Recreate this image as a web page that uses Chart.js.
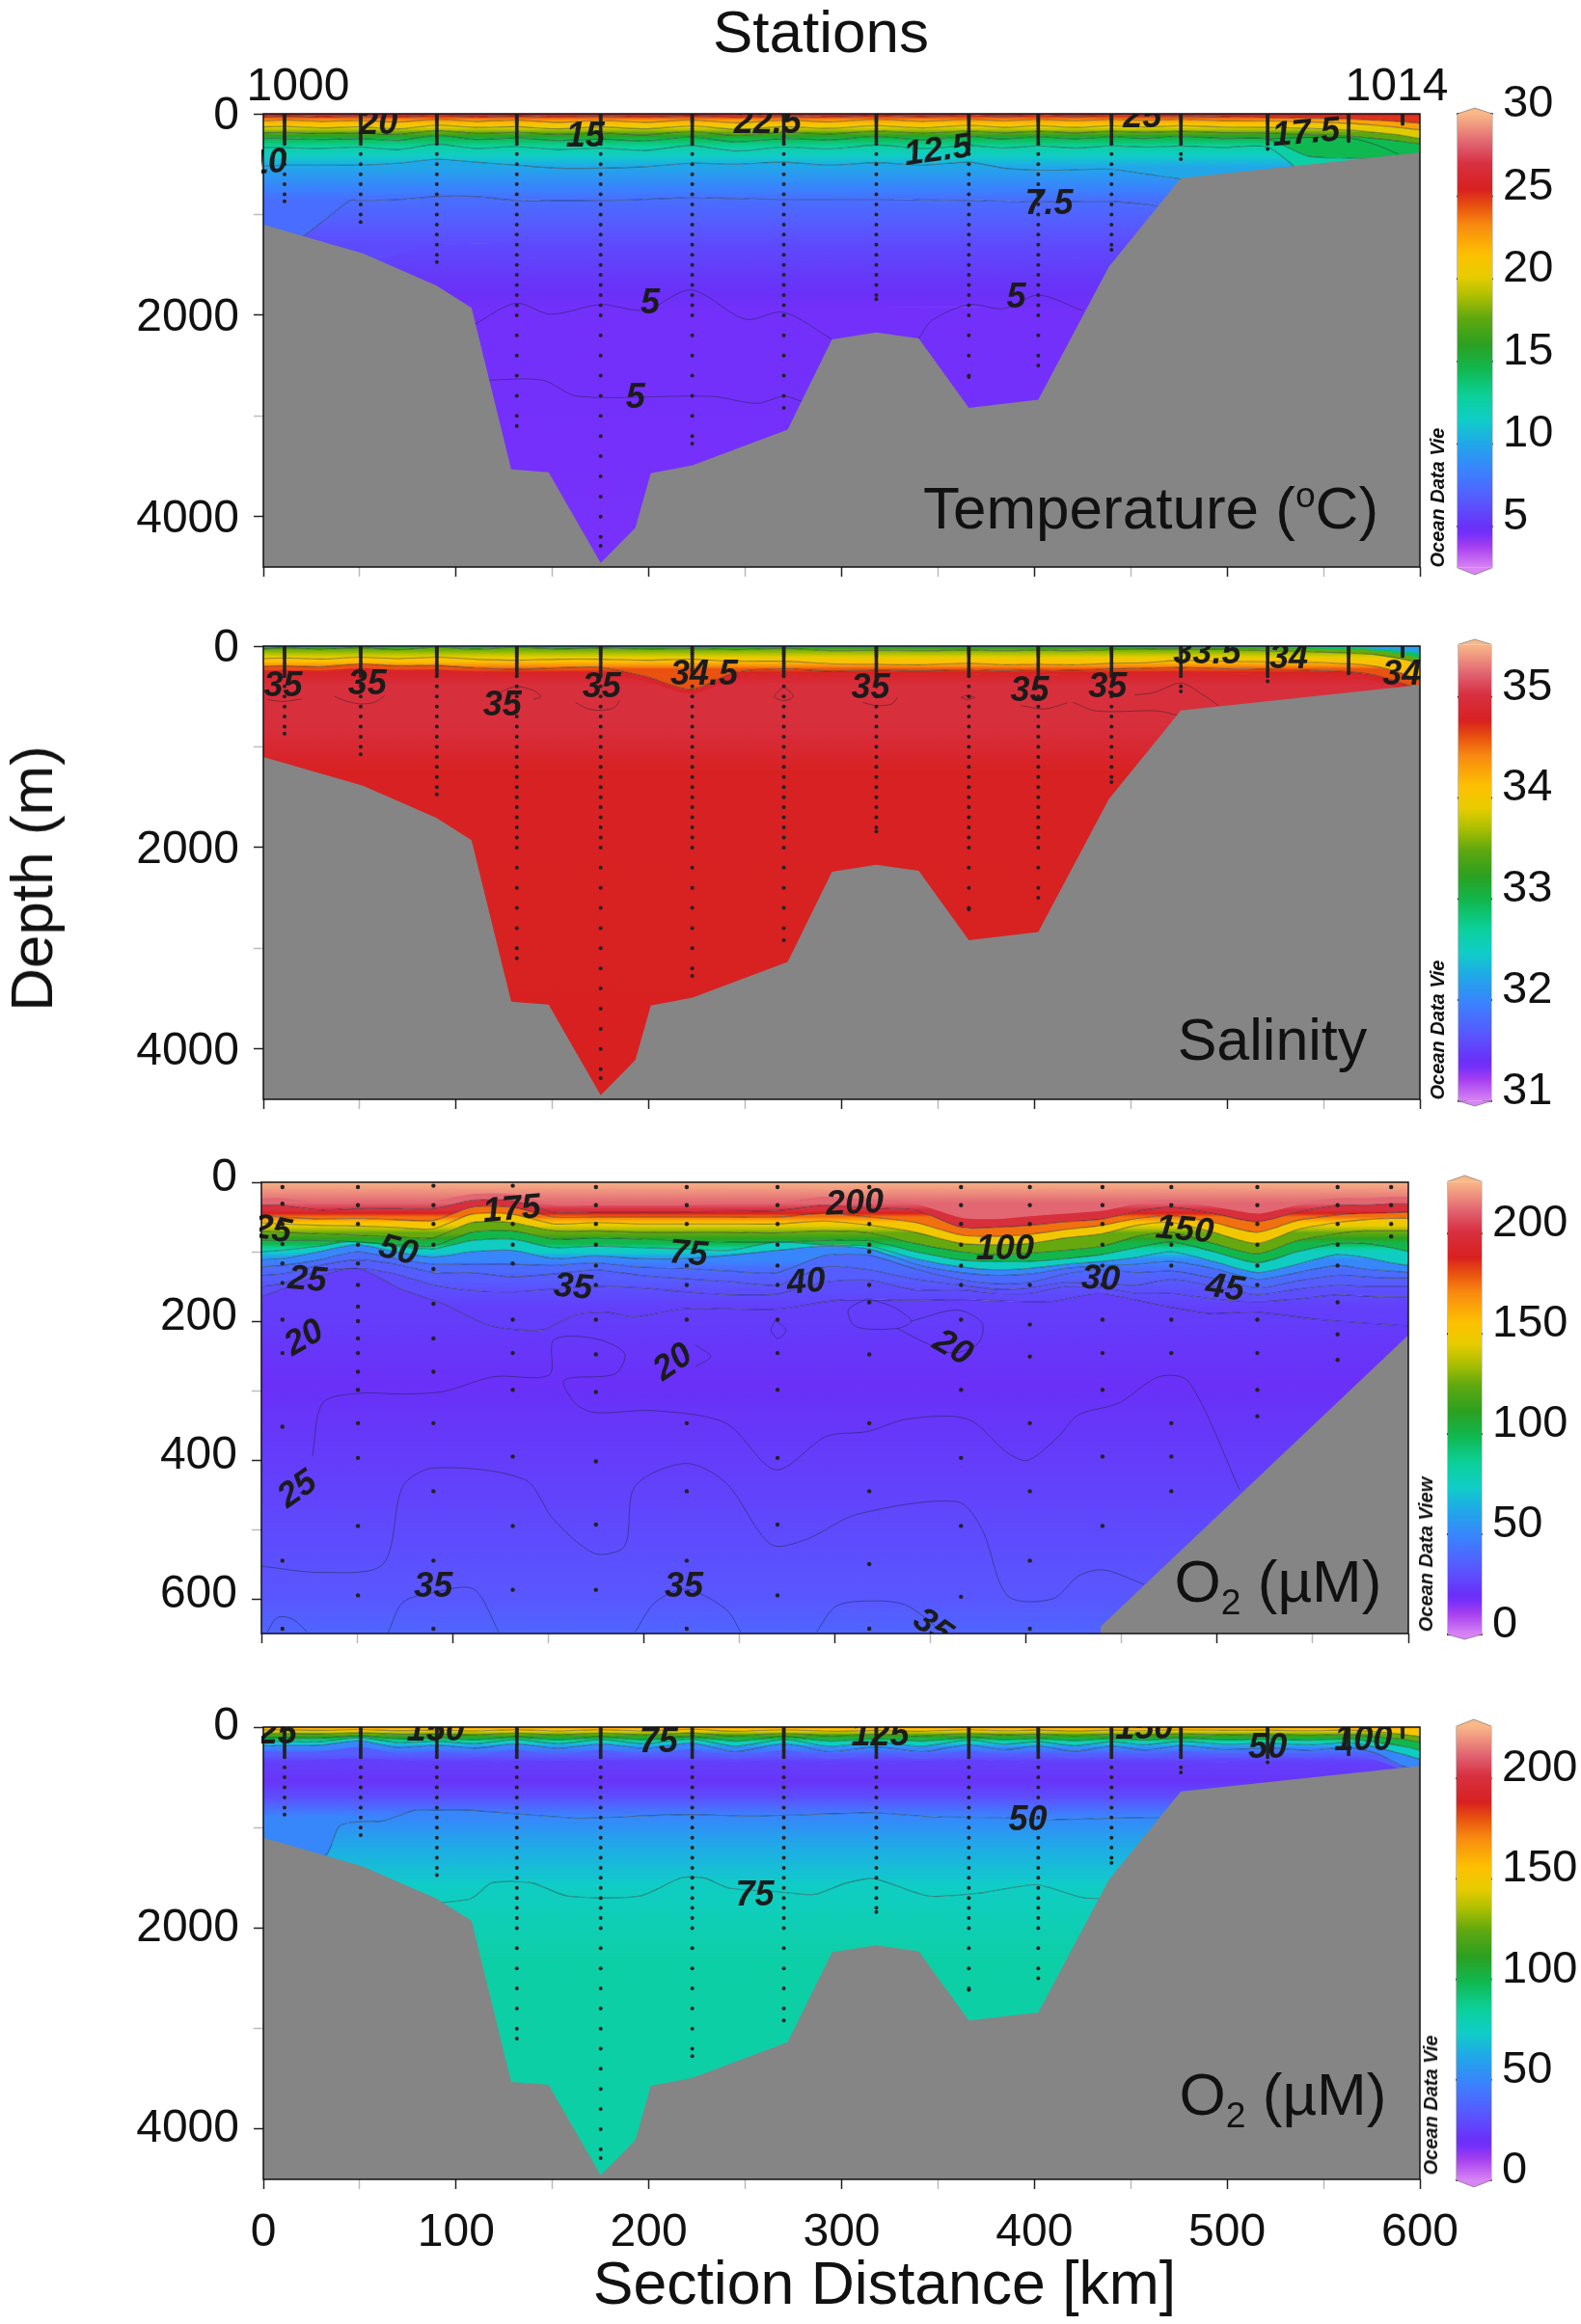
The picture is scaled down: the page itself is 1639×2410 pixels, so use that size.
<!DOCTYPE html>
<html>
<head>
<title>Stations section</title>
<script src="https://cdn.jsdelivr.net/npm/chart.js@4"></script>
<style>
  html, body { margin: 0; background: #fff; }
  #page { position: relative; width: 1639px; height: 2410px; overflow: hidden; font-family: "Liberation Sans", Arial, sans-serif; color: #111; }
  canvas { position: absolute; }
  .txt { position: absolute; white-space: nowrap; line-height: 1; transform-origin: center; }
  .txt sub, .txt sup { font-size: .6em; line-height: 0; }
</style>
</head>
<body>
<div id="page"></div>
<script>
// stations along the section
const stationKm = [11, 50.5, 90, 131.5, 175, 222.5, 270, 318, 366, 402, 440, 476, 521, 563, 591];
const stationMaxDepth = [870, 1075, 1473, 3100, 4290, 3275, 2920, 1840, 2615, 2500, 1350, 450, 350, 270, 100];
const castDepths = [10, 25, 40, 60, 80, 100, 125, 150, 175, 200, 225, 250, 275, 300, 400, 500, 600, 700, 800, 900, 1000, 1100, 1200, 1300, 1400, 1500, 1600, 1700, 1800, 1900, 2000, 2200, 2400, 2600, 2800, 3000, 3200, 3400, 3600, 3800, 4000, 4200];
// upper 650 m casts, one list per station
const upperCasts = [
  [7, 31, 60, 89, 117, 145, 198, 246, 352, 545, 643],
  [7, 33, 60, 90, 117, 148, 179, 200, 225, 246, 273, 299, 347, 397, 495, 595],
  [5, 33, 60, 90, 125, 175, 225, 273, 347, 445, 545, 643],
  [5, 60, 90, 117, 198, 246, 299, 395, 495, 587],
  [7, 33, 60, 90, 120, 148, 198, 248, 302, 402, 493, 587],
  [7, 33, 60, 90, 120, 148, 198, 347, 445, 545, 643],
  [7, 33, 60, 90, 120, 148, 198, 246, 299, 397, 493, 595],
  [7, 33, 60, 90, 100, 148, 173, 248, 347, 445, 550, 643],
  [7, 33, 60, 90, 120, 148, 198, 299, 397, 495, 597],
  [7, 33, 60, 100, 148, 205, 251, 347, 445, 545, 643],
  [7, 33, 60, 90, 120, 148, 198, 246, 299, 395, 495],
  [7, 33, 60, 90, 120, 198, 246, 347, 395, 445],
  [7, 33, 60, 90, 120, 148, 198, 246, 299, 337],
  [7, 33, 60, 90, 120, 173, 219, 256],
  [7, 33, 60, 78]
];

// sea floor
const floorKm = [0, 51.6, 89.7, 108, 128.6, 148, 175, 193, 201, 222.7, 272, 295, 318, 340, 366, 402, 438.6, 476, 600];
const floorDepth = [1100, 1387, 1705, 1926, 3530, 3560, 4460, 4110, 3570, 3490, 3135, 2240, 2170, 2230, 2920, 2840, 1520, 640, 385];
const upperFloorKm = [439, 600];
const upperFloorDepth = [640, 220];

// km positions of the shallow isolines
const gridKm = [0, 11, 30, 50, 70, 90, 110, 131, 153, 175, 198, 222, 245, 270, 294, 318, 342, 366, 384, 402, 421, 440, 458, 476, 498, 521, 542, 563, 577, 591, 600];

// temperature isolines, depth in m
const temp25 = [30, 20, 30, 22, 32, 15, 30, 20, 32, 22, 32, 18, 35, 22, 30, 16, 28, 15, 25, 15, 25, 15, 22, 22, 28, 35, 40, 50, 65, 80, 95];
const temp22 = [70, 60, 75, 65, 82, 55, 75, 62, 85, 65, 85, 60, 90, 62, 80, 55, 75, 55, 70, 55, 70, 55, 65, 55, 68, 70, 80, 95, 115, 140, 160];
const temp20 = [130, 125, 140, 130, 150, 112, 135, 128, 150, 130, 150, 120, 155, 128, 145, 118, 140, 115, 135, 118, 135, 118, 130, 118, 132, 135, 145, 160, 185, 215, 245];
const temp17 = [190, 185, 195, 190, 205, 165, 195, 185, 205, 190, 210, 175, 215, 185, 200, 170, 195, 170, 190, 172, 190, 172, 185, 172, 188, 190, 205, 220, 245, 275, 300];
const temp15 = [245, 245, 255, 245, 265, 215, 255, 240, 265, 250, 270, 230, 280, 245, 260, 225, 260, 225, 250, 228, 250, 228, 245, 225, 245, 250, 420, 440, 450, 460, 470];
const temp12 = [335, 335, 345, 330, 355, 300, 345, 325, 355, 340, 365, 315, 370, 330, 350, 310, 345, 315, 340, 318, 340, 318, 330, 320, 335, 330, 620, 700, 720, 740, 760];
const temp10 = [520, 510, 510, 510, 490, 450, 480, 510, 540, 540, 525, 490, 500, 480, 510, 485, 510, 480, 540, 560, 555, 550, 600, 650, 800, 850, 900, 920, 940, 960, 980];
const temp7Km = [0, 11, 31, 45, 50, 72, 90, 110, 131, 175, 198, 222, 245, 270, 318, 366, 402, 440, 458, 476, 600];
const temp7 = [1350, 1340, 1065, 860, 860, 850, 820, 820, 860, 860, 850, 830, 840, 850, 850, 860, 875, 870, 900, 950, 1100];
const temp6Km = [0, 50, 90, 131, 600];
const temp6 = [1900, 1500, 1300, 1300, 1300];
const temp5Km = [0, 131, 600];
const temp5 = [2300, 1950, 1950];
const tempContours = [
  [[110, 2085], [131, 1880], [149, 1990], [175, 1895], [198, 1950], [222, 1750], [250, 2040], [270, 1970], [295, 2240]],
  [[340, 2230], [347, 2050], [366, 1895], [384, 1935], [402, 1800], [425, 1955]],
  [[116, 2645], [145, 2645], [163, 2805], [232, 2805], [256, 2875], [270, 2805], [280, 2860]],
  [[521, 250], [542, 235], [563, 240], [577, 306], [589, 402]]
];
const tempLabels = [
  ['20', 59.7, 108, 0], ['15', 167, 226, 0], ['22.5', 261.6, 99, 0], ['12.5', 350, 370, -8], ['25', 456, 35, 0],
  ['17.5', 541, 195, -5], ['7.5', 407.6, 896, 0], ['10', 2.5, 491, -5], ['5', 200.7, 1889, 0], ['5', 390.6, 1832, 0], ['5', 193, 2823, 0]
];

// salinity isolines, depth in m
const sal32Km = [0, 521, 563, 577, 591, 600];
const sal32 = [0, 0, 8, 18, 40, 60];
const sal33Km = [0, 476, 521, 563, 577, 591, 600];
const sal33 = [2, 2, 10, 25, 40, 75, 115];
const sal335 = [30, 16, 32, 16, 35, 12, 30, 12, 28, 18, 30, 24, 35, 22, 45, 40, 45, 38, 45, 38, 45, 32, 30, 25, 32, 45, 55, 70, 85, 130, 170];
const sal34 = [125, 118, 128, 110, 125, 110, 130, 140, 130, 130, 140, 130, 150, 150, 175, 180, 185, 170, 185, 180, 185, 170, 165, 140, 150, 155, 160, 175, 200, 270, 340];
const sal346 = [200, 195, 205, 175, 195, 190, 215, 230, 215, 210, 300, 430, 260, 225, 250, 240, 245, 235, 245, 235, 240, 225, 220, 210, 225, 230, 240, 255, 290, 370, 430];
const sal348 = [250, 245, 255, 225, 245, 240, 265, 280, 265, 260, 340, 470, 310, 275, 300, 290, 295, 285, 295, 285, 290, 275, 270, 260, 275, 280, 290, 305, 340, 420, 480];
const sal35Km = [0, 175, 198, 222, 245, 270, 563, 591, 600];
const sal35 = [380, 380, 400, 520, 400, 380, 380, 440, 500];
const sal35Low = [800, 800];
const sal349 = [1250, 1250];
const salContours = [
  [[2, 530], [10, 550], [20, 525]],
  [[37, 500], [42, 540], [50, 574], [58, 555], [63, 490]],
  [[118, 500], [125, 440], [131, 400], [140, 440], [144, 500], [140, 530]],
  [[162, 560], [168, 620], [175, 638], [182, 610], [185, 540]],
  [[270, 398], [265, 500], [270, 542], [275, 500], [270, 398]],
  [[311, 560], [318, 590], [326, 575], [329, 510]],
  [[362, 510], [365, 490], [369, 510], [365, 530], [362, 510]],
  [[393, 590], [405, 625], [417, 565]],
  [[420, 558], [432, 644], [464, 644], [475, 691]],
  [[452, 485], [462, 462], [476, 367], [487, 478], [495.5, 590]]
];
const salLabels = [
  ['35', 10.3, 399, 0], ['35', 53.9, 383, 0], ['35', 124, 590, 0], ['35', 175.5, 415, 0], ['34.5', 228.7, 287, 0], ['35', 315, 421, 0],
  ['35', 397.6, 446, 0], ['35', 438, 408, 0], ['33.5', 489.6, 80, 0], ['34', 532, 128, 0], ['34', 590.6, 287, 0]
];

// upper 650 m oxygen isolines, depth in m
const up212 = [24, 24, 30, 28, 28, 28, 18, 18, 32, 32, 32, 32, 30, 30, 22, 26, 30, 50, 52, 48, 44, 40, 30, 26, 34, 44, 32, 24, 24, 22, 22];
const up200 = [33, 33, 40, 38, 38, 38, 26, 26, 43, 43, 43, 43, 42, 41, 33, 37, 40, 65, 65, 62, 57, 53, 42, 36, 45, 57, 43, 33, 33, 31, 31];
const up175 = [48, 50, 53, 52, 54, 55, 36, 36, 50, 50, 50, 50, 50, 50, 45, 50, 58, 76, 78, 75, 68, 62, 52, 48, 58, 72, 55, 47, 45, 44, 43];
const up150 = [58, 60, 62, 63, 65, 67, 46, 46, 60, 58, 60, 60, 60, 60, 56, 62, 72, 88, 90, 88, 80, 74, 62, 58, 72, 88, 68, 58, 54, 52, 52];
const up125 = [70, 72, 74, 76, 78, 80, 58, 58, 70, 70, 72, 72, 72, 73, 70, 73, 88, 100, 104, 102, 98, 92, 78, 72, 88, 103, 84, 74, 70, 70, 70];
const up100 = [84, 84, 84, 86, 90, 92, 72, 70, 82, 80, 82, 84, 86, 86, 84, 84, 100, 112, 114, 114, 110, 104, 94, 86, 100, 116, 100, 88, 88, 94, 100];
const up75 = [100, 98, 92, 84, 92, 96, 84, 82, 94, 92, 94, 96, 98, 86, 90, 92, 110, 122, 126, 124, 118, 114, 108, 100, 114, 130, 118, 104, 108, 116, 120];
const up50 = [112, 110, 100, 90, 100, 108, 100, 98, 110, 106, 110, 110, 105, 98, 92, 96, 118, 130, 134, 132, 124, 120, 118, 114, 124, 140, 130, 120, 125, 128, 130];
const up40 = [122, 120, 112, 100, 110, 118, 118, 118, 120, 116, 122, 124, 128, 130, 106, 105, 125, 140, 146, 144, 132, 126, 130, 128, 138, 152, 142, 134, 136, 138, 138];
const up35 = [134, 132, 120, 112, 118, 130, 130, 136, 132, 126, 134, 139, 143, 148, 122, 126, 140, 148, 154, 152, 144, 146, 148, 140, 150, 162, 154, 148, 150, 150, 150];
const up30 = [150, 146, 128, 124, 132, 148, 156, 158, 154, 150, 152, 158, 162, 161, 144, 141, 155, 155, 160, 160, 150, 152, 160, 160, 168, 172, 168, 162, 164, 165, 165];
const up25Km = [0, 30, 50.5, 74, 95, 116, 132, 148, 164, 180, 195, 222, 269, 301, 338, 369, 412, 438, 470, 496, 520, 554, 600];
const up25 = [165, 135, 124, 155, 175, 203, 212, 212, 191, 187, 194, 182, 183, 170, 170, 169, 172, 160, 177, 189, 187, 198, 207];
const upContours = [
  [[26.7, 395], [32, 318], [50.5, 304], [74, 305], [95, 301.5], [121.6, 280], [150.6, 277.5], [153, 227], [174.3, 225], [190, 246.4], [185, 276], [158.5, 285], [164, 318], [174.3, 331.6], [206, 329], [243, 347], [269, 414], [295.6, 366], [317, 359], [338, 341], [369.4, 341], [390.5, 390], [401, 400.5], [417, 366], [427.4, 335], [448.5, 318], [469.6, 280], [485, 287], [511.7, 442.6]],
  [[0, 553], [32, 562], [63.6, 550], [74, 438], [90, 411.5], [137.5, 428], [153, 486], [174.3, 534.5], [190, 524], [195.4, 438], [222, 405], [243, 433], [266.6, 521.6], [285, 514.4], [311.4, 478.5], [364, 460], [377, 500], [390.5, 596], [414, 600], [427.4, 567], [440.6, 558.4], [461.7, 579]],
  [[66.3, 648.4], [74, 605], [90, 591], [111, 586], [124.3, 648.4]],
  [[195.4, 648], [206, 605], [222, 586], [243, 615], [250.8, 648]],
  [[290.3, 648], [301, 610], [322, 603], [338, 610], [356.2, 648]],
  [[3, 648], [8.3, 627], [16.2, 629], [24, 648]],
  [[317, 167.5], [307, 184], [311, 208], [332.5, 210.5], [340, 200], [330, 179], [317, 167.5]],
  [[340, 200], [364, 184], [377, 203], [375, 232], [361.5, 246], [348, 232], [332.5, 210.5]],
  [[269, 198.6], [266.6, 213], [270.3, 225], [274.5, 213], [269, 198.6]],
  [[227, 234.5], [235, 251], [227, 265.6]]
];
const upLabels = [
  ['25', 5.6, 69, 10], ['175', 131, 40, -5], ['200', 310.4, 31, -3], ['50', 71.5, 99, 15], ['75', 223.4, 104, 5], ['100', 389, 98, 0], ['150', 483, 69.4, 5],
  ['25', 24, 141, 5], ['35', 163, 152, 5], ['40', 285, 144.5, -5], ['30', 439, 140, 3], ['45', 504, 153, 8],
  ['20', 22.5, 225, -30], ['20', 215.5, 260, -35], ['20', 361.5, 239, 30], ['25', 19, 443, -35], ['35', 90, 584, 0], ['35', 221, 584, 0], ['35', 351, 641, 35]
];

// full depth oxygen isolines, depth in m
const deep150 = [30, 28, 32, 24, 35, 30, 38, 25, 38, 25, 38, 22, 42, 26, 42, 32, 42, 26, 36, 30, 40, 30, 36, 26, 32, 30, 36, 30, 45, 70, 95];
const deep125 = [65, 65, 68, 55, 72, 68, 80, 60, 80, 60, 80, 58, 88, 62, 88, 72, 88, 62, 78, 70, 85, 70, 82, 65, 78, 72, 82, 72, 95, 120, 150];
const deep100 = [105, 105, 108, 85, 115, 105, 125, 95, 125, 95, 125, 92, 140, 95, 140, 115, 140, 100, 125, 110, 135, 110, 130, 105, 125, 118, 130, 115, 150, 190, 230];
const deep75 = [145, 140, 145, 105, 155, 140, 165, 125, 165, 125, 165, 120, 190, 125, 190, 150, 190, 130, 170, 145, 185, 145, 175, 140, 170, 160, 175, 155, 200, 270, 320];
const deep50 = [180, 185, 180, 134, 205, 180, 210, 166, 214, 166, 214, 159, 245, 166, 245, 198, 245, 175, 225, 190, 240, 190, 230, 182, 225, 210, 230, 205, 258, 385, 430];
const deep35 = [250, 255, 250, 205, 275, 250, 280, 235, 285, 235, 285, 230, 310, 235, 310, 265, 310, 240, 290, 255, 305, 255, 295, 250, 290, 275, 295, 270, 320, 420, 470];
const deep25Km = [0, 50, 90, 131, 175, 222, 270, 318, 366, 402, 440, 476, 521, 563, 600];
const deep25 = [360, 320, 360, 350, 340, 340, 350, 360, 330, 350, 350, 350, 360, 370, 520];
const deepMid50Km = [0, 32, 39, 46, 62.6, 78.6, 90, 106, 130, 162, 175, 221, 251, 300, 317, 345, 381, 412, 439, 464, 600];
const deepMid50 = [1400, 1282, 995, 947, 932, 826, 826, 826, 861, 906, 900, 870, 885, 860, 851, 890, 900, 920, 906, 900, 900];
const deepMid75Km = [0, 107, 118, 130, 140, 158, 195, 217, 229, 241, 268, 286, 302, 317, 345, 373, 401, 428, 600];
const deepMid75 = [1900, 1712, 1553, 1537, 1553, 1681, 1681, 1499, 1503, 1600, 1640, 1665, 1553, 1510, 1681, 1649, 1569, 1703, 1700];
const deepLabels = [
  ['25', 7.4, 70, 0], ['150', 89.4, 38, 0], ['75', 205, 150, 0], ['75', 255, 1681, 0], ['125', 320, 86, 0], ['50', 396.6, 931, 0],
  ['150', 457, 22, 0], ['50', 521, 213, 0], ['100', 570.6, 134, 0]
];

// axes
const distTicks = [0, 50, 100, 150, 200, 250, 300, 350, 400, 450, 500, 550, 600];
const distLabels = [0, 100, 200, 300, 400, 500, 600];
const fullDepthTicks = [0, 1000, 2000, 3000, 4000];
const fullDepthLabels = [0, 2000, 4000];
const upperDepthTicks = [0, 100, 200, 300, 400, 500, 600];
const upperDepthLabels = [0, 200, 400, 600];
const tempBarTicks = [5, 10, 15, 20, 25, 30];
const salBarTicks = [31, 32, 33, 34, 35];
const o2BarTicks = [0, 50, 100, 150, 200];

// colour ramp, t goes from the low to the high end
const rampT = [0, .047, .075, .09, .147, .21, .274, .324, .38, .437, .493, .55, .6, .642, .69, .755, .798, .833, .89, .933, .975, 1];
const rampColor = ['#d884f4', '#a53ef0', '#7430fb', '#6a30f8', '#5858ff', '#3c80ff', '#20a8e8', '#10cdc8', '#0cd098', '#10b850', '#2ca020', '#60a810', '#b0c000', '#e8cc00', '#fdc000', '#f88a10', '#e85010', '#d82020', '#d83040', '#e06070', '#f09880', '#f8b888'];

function hexRgb(h) { return [1, 3, 5].map(i => parseInt(h.substr(i, 2), 16)); }
function rampAt(t) {
  t = Math.max(0, Math.min(1, t));
  let i = 0;
  while (i < rampT.length - 2 && t > rampT[i + 1]) i++;
  const f = (t - rampT[i]) / (rampT[i + 1] - rampT[i]);
  const a = hexRgb(rampColor[i]), b = hexRgb(rampColor[i + 1]);
  return 'rgb(' + a.map((c, k) => Math.round(c + (b[k] - c) * f)).join(',') + ')';
}
function median(arr) { const s = arr.slice().sort((a, b) => a - b); return s[Math.floor(s.length / 2)]; }
function pts(km, depth) { return km.map((x, i) => ({ x: x, y: depth[i] })); }

const page = document.getElementById('page');

function addText(html, x, y, size, extra) {
  const d = document.createElement('div');
  d.className = 'txt';
  d.innerHTML = html;
  d.style.cssText = 'left:' + x + 'px;top:' + y + 'px;font-size:' + size + 'px;transform:translate(-50%,-50%) ' + ((extra && extra.rot) ? 'rotate(' + extra.rot + 'deg)' : '') + ';' + ((extra && extra.css) || '');
  page.appendChild(d);
}

// fill of one band between two isolines, runs down the ramp between their values
function bandFill(ctx, up, low, range) {
  const chart = ctx.chart;
  if (!chart.chartArea) return 'transparent';
  const ys = chart.scales.y;
  const y0 = ys.getPixelForValue(up.ref !== undefined ? up.ref : median(up.d));
  let y1 = ys.getPixelForValue(low.ref !== undefined ? low.ref : median(low.d));
  if (y1 <= y0) y1 = y0 + 1;
  const g = chart.ctx.createLinearGradient(0, y0, 0, y1);
  for (let i = 0; i <= 8; i++) {
    const v = up.v + (low.v - up.v) * i / 8;
    g.addColorStop(i / 8, rampAt((v - range[0]) / (range[1] - range[0])));
  }
  return g;
}

const contourColor = 'rgba(20,30,30,.42)';

function bandSets(bands, range) {
  return bands.map((b, i) => ({
    data: pts(b.km, b.d),
    borderColor: b.line ? contourColor : rampAt((b.v - range[0]) / (range[1] - range[0])),
    borderWidth: i ? (b.line ? 1.1 : 1.5) : 0,
    pointRadius: 0,
    tension: .25,
    order: 10,
    fill: i ? '-1' : false,
    backgroundColor: i ? (ctx => bandFill(ctx, bands[i - 1], b, range)) : 'transparent'
  }));
}

const labelPlugin = {
  id: 'contourLabels',
  afterDatasetsDraw(chart, args, opts) {
    const c = chart.ctx, a = chart.chartArea;
    c.save();
    c.beginPath();
    c.rect(a.left - 2, a.top, a.right - a.left + 4, a.bottom - a.top);
    c.clip();
    c.font = 'italic bold 36px "Liberation Sans"';
    c.fillStyle = '#1b1b1b';
    c.textAlign = 'center';
    c.textBaseline = 'middle';
    (opts.items || []).forEach(l => {
      c.save();
      c.translate(chart.scales.x.getPixelForValue(l[1]), chart.scales.y.getPixelForValue(l[2]));
      c.rotate(l[3] * Math.PI / 180);
      c.fillText(l[0], 0, 0);
      c.restore();
    });
    c.restore();
    c.strokeStyle = '#111';
    c.lineWidth = 1.5;
    c.strokeRect(a.left, a.top, a.right - a.left, a.bottom - a.top);
  }
};

function sectionChart(p) {
  const pad = 60;
  const cv = document.createElement('canvas');
  cv.width = 1639 - 120; cv.height = pad + (p.bottom - p.top) + p.below;
  cv.style.left = '0px'; cv.style.top = (p.top - pad) + 'px';
  page.appendChild(cv);

  const sets = bandSets(p.bands, p.range);
  (p.contours || []).forEach(cn => sets.push({
    data: cn.map(q => ({ x: q[0], y: q[1] })),
    borderColor: contourColor, borderWidth: 1, pointRadius: 0, tension: .3, fill: false, order: 5
  }));
  sets.push({ data: pts(p.floorKm, p.floorDepth), borderWidth: 0, pointRadius: 0, tension: 0, fill: { value: p.depthMax }, backgroundColor: '#858585', order: 2 });
  sets.push({ data: p.dots, showLine: false, pointRadius: p.dotR, pointBorderWidth: 0, pointBackgroundColor: '#222', fill: false, order: 1 });

  new Chart(cv, {
    type: 'line',
    data: { datasets: sets },
    plugins: [labelPlugin],
    options: {
      responsive: false, animation: false, devicePixelRatio: 1,
      layout: { padding: { top: pad, right: cv.width - p.right, left: 0, bottom: 0 } },
      plugins: { legend: { display: false }, tooltip: { enabled: false }, contourLabels: { items: p.labels } },
      scales: {
        x: {
          type: 'linear', min: 0, max: 600,
          afterBuildTicks: s => { s.ticks = distTicks.map(v => ({ value: v })); },
          afterFit: s => { s.height = p.below; s.paddingLeft = 0; s.paddingRight = 0; },
          border: { display: false },
          grid: {
            drawOnChartArea: false, tickLength: 10, tickWidth: 1.5,
            tickColor: c => (c.tick && c.tick.value % 100 === 0) ? '#222' : '#bbb'
          },
          ticks: {
            autoSkip: false, maxRotation: 0, padding: 17, color: '#111',
            font: { family: 'Liberation Sans', size: 48 },
            callback: v => (p.xLabels && distLabels.includes(v)) ? v : ''
          }
        },
        y: {
          reverse: true, min: 0, max: p.depthMax,
          afterBuildTicks: s => { s.ticks = p.yTicks.map(v => ({ value: v })); },
          afterFit: s => { s.width = p.left; s.paddingTop = 0; s.paddingBottom = 0; },
          border: { display: false },
          grid: {
            drawOnChartArea: false, tickLength: 10, tickWidth: 1.5,
            tickColor: c => (c.tick && p.yLabels.includes(c.tick.value)) ? '#222' : '#bbb'
          },
          ticks: {
            autoSkip: false, padding: 15, labelOffset: p.yOff, color: '#111',
            font: { family: 'Liberation Sans', size: 48 },
            callback: v => p.yLabels.includes(v) ? v : ''
          }
        }
      }
    }
  });
}

function colorBar(b) {
  const pad = 45;
  const cv = document.createElement('canvas');
  cv.width = 1639 - b.left; cv.height = b.bottom - b.top + 2 * pad;
  cv.style.left = b.left + 'px'; cv.style.top = (b.top - pad) + 'px';
  page.appendChild(cv);
  const low = b.tipLow, high = b.tipHigh;
  const edge = 'rgba(90,90,90,.55)';
  const bodyFill = ctx => {
    const ch = ctx.chart;
    if (!ch.chartArea) return 'transparent';
    const y0 = ch.scales.y.getPixelForValue(b.range[1]), y1 = ch.scales.y.getPixelForValue(b.range[0]);
    const g = ch.ctx.createLinearGradient(0, y1, 0, y0);
    rampT.forEach((t, i) => g.addColorStop(t, rampColor[i]));
    return g;
  };
  new Chart(cv, {
    type: 'line',
    data: {
      datasets: [
        { data: [{ x: 0, y: b.range[1] }, { x: 1, y: b.range[1] }], fill: { value: b.range[0] }, backgroundColor: bodyFill, borderWidth: 0, pointRadius: 0, clip: false },
        { data: [{ x: 0, y: b.range[1] }, { x: .5, y: high }, { x: 1, y: b.range[1] }], fill: { value: b.range[1] }, backgroundColor: rampColor[rampColor.length - 1], borderColor: edge, borderWidth: 1, pointRadius: 0, clip: false },
        { data: [{ x: 0, y: b.range[0] }, { x: .5, y: low }, { x: 1, y: b.range[0] }], fill: { value: b.range[0] }, backgroundColor: rampColor[0], borderColor: edge, borderWidth: 1, pointRadius: 0, clip: false },
        { data: [{ x: 0, y: b.range[0] }, { x: 0, y: b.range[1] }], borderColor: edge, borderWidth: 1, pointRadius: 0, fill: false, clip: false },
        { data: [{ x: 1, y: b.range[0] }, { x: 1, y: b.range[1] }], borderColor: edge, borderWidth: 1, pointRadius: 0, fill: false, clip: false },
        { data: b.ticks.map(v => ({ x: .12, y: v })), showLine: false, pointStyle: 'line', pointRadius: 5, pointBorderColor: '#222', pointBorderWidth: 1.8, clip: false },
        { data: b.ticks.map(v => ({ x: .88, y: v })), showLine: false, pointStyle: 'line', pointRadius: 5, pointBorderColor: '#222', pointBorderWidth: 1.8, clip: false }
      ]
    },
    options: {
      responsive: false, animation: false, devicePixelRatio: 1,
      layout: { padding: { top: pad, bottom: pad, left: 0, right: 0 } },
      plugins: { legend: { display: false }, tooltip: { enabled: false } },
      scales: {
        x: { type: 'linear', min: 0, max: 1, display: false },
        y: {
          position: 'right', min: low, max: high,
          afterBuildTicks: s => { s.ticks = b.ticks.map(v => ({ value: v })); },
          afterFit: s => { s.width = cv.width - b.width; s.paddingTop = 0; s.paddingBottom = 0; },
          border: { display: false },
          grid: { display: false, drawTicks: false },
          ticks: {
            autoSkip: false, padding: 11, labelOffset: -10, color: '#111',
            font: { family: 'Liberation Sans', size: 47 },
            callback: v => v
          }
        }
      }
    }
  });
}

function stationDots() {
  const out = [];
  stationKm.forEach((km, i) => {
    castDepths.filter(d => d < stationMaxDepth[i]).concat(stationMaxDepth[i]).forEach(d => out.push({ x: km, y: d }));
  });
  return out;
}
function upperDots() {
  const out = [];
  upperCasts.forEach((list, i) => list.forEach(d => out.push({ x: stationKm[i], y: d })));
  return out;
}

// section panels
sectionChart({
  top: 118, bottom: 588, left: 273, right: 1472, below: 30, depthMax: 4500, dotR: 2, yOff: 3,
  yTicks: fullDepthTicks, yLabels: fullDepthLabels, range: [2.5, 30],
  bands: [
    { v: 26.5, km: [0, 600], d: [0, 0], ref: 0 },
    { v: 25, km: gridKm, d: temp25, line: 1 },
    { v: 22.5, km: gridKm, d: temp22, line: 1 },
    { v: 20, km: gridKm, d: temp20, line: 1 },
    { v: 17.5, km: gridKm, d: temp17, line: 1 },
    { v: 14.5, km: gridKm, d: temp15, line: 1 },
    { v: 12.5, km: gridKm, d: temp12, line: 1 },
    { v: 10, km: gridKm, d: temp10, line: 1 },
    { v: 7.5, km: temp7Km, d: temp7, line: 1 },
    { v: 6, km: temp6Km, d: temp6 },
    { v: 4.6, km: temp5Km, d: temp5 },
    { v: 4.5, km: [0, 600], d: [4500, 4500] }
  ],
  contours: tempContours, labels: tempLabels,
  floorKm: floorKm, floorDepth: floorDepth, dots: stationDots()
});

sectionChart({
  top: 670, bottom: 1140, left: 273, right: 1472, below: 30, depthMax: 4500, dotR: 2, yOff: 3,
  yTicks: fullDepthTicks, yLabels: fullDepthLabels, range: [31, 35.52],
  bands: [
    { v: 32.2, km: [0, 600], d: [0, 0], ref: 0 },
    { v: 32.2, km: sal32Km, d: sal32, ref: 1 },
    { v: 32.9, km: sal33Km, d: sal33, ref: 2 },
    { v: 33.5, km: gridKm, d: sal335, line: 1 },
    { v: 34.1, km: gridKm, d: sal34, line: 1 },
    { v: 34.6, km: gridKm, d: sal346, line: 1 },
    { v: 34.85, km: gridKm, d: sal348 },
    { v: 35, km: sal35Km, d: sal35 },
    { v: 35, km: [0, 600], d: sal35Low },
    { v: 34.78, km: [0, 600], d: sal349 },
    { v: 34.77, km: [0, 600], d: [4500, 4500] }
  ],
  contours: salContours, labels: salLabels,
  floorKm: floorKm, floorDepth: floorDepth, dots: stationDots()
});

sectionChart({
  top: 1226, bottom: 1694, left: 271, right: 1460, below: 30, depthMax: 650, dotR: 2.2, yOff: -4,
  yTicks: upperDepthTicks, yLabels: upperDepthLabels, range: [0, 226],
  bands: [
    { v: 225, km: [0, 600], d: [0, 0], ref: 0 },
    { v: 212, km: gridKm, d: up212 },
    { v: 200, km: gridKm, d: up200, line: 1 },
    { v: 175, km: gridKm, d: up175, line: 1 },
    { v: 150, km: gridKm, d: up150, line: 1 },
    { v: 125, km: gridKm, d: up125, line: 1 },
    { v: 100, km: gridKm, d: up100, line: 1 },
    { v: 75, km: gridKm, d: up75, line: 1 },
    { v: 50, km: gridKm, d: up50, line: 1 },
    { v: 40, km: gridKm, d: up40, line: 1 },
    { v: 35, km: gridKm, d: up35, line: 1 },
    { v: 30, km: gridKm, d: up30, line: 1 },
    { v: 25, km: up25Km, d: up25, line: 1 },
    { v: 20, km: [0, 600], d: [290, 290] },
    { v: 26, km: [0, 600], d: [440, 440] },
    { v: 33, km: [0, 600], d: [600, 600] },
    { v: 38, km: [0, 600], d: [650, 650] }
  ],
  contours: upContours, labels: upLabels,
  floorKm: upperFloorKm, floorDepth: upperFloorDepth, dots: upperDots()
});

sectionChart({
  top: 1791, bottom: 2260, left: 273, right: 1472, below: 150, depthMax: 4500, dotR: 2, yOff: 0,
  yTicks: fullDepthTicks, yLabels: fullDepthLabels, range: [0, 226], xLabels: true,
  bands: [
    { v: 168, km: [0, 600], d: [0, 0], ref: 0 },
    { v: 150, km: gridKm, d: deep150, line: 1 },
    { v: 125, km: gridKm, d: deep125, line: 1 },
    { v: 100, km: gridKm, d: deep100, line: 1 },
    { v: 75, km: gridKm, d: deep75, line: 1 },
    { v: 50, km: gridKm, d: deep50, line: 1 },
    { v: 35, km: gridKm, d: deep35 },
    { v: 25, km: deep25Km, d: deep25 },
    { v: 22, km: [0, 600], d: [540, 540] },
    { v: 30, km: [0, 600], d: [700, 700] },
    { v: 50, km: deepMid50Km, d: deepMid50, line: 1 },
    { v: 62, km: [0, 600], d: [1170, 1170] },
    { v: 75, km: deepMid75Km, d: deepMid75, line: 1 },
    { v: 82, km: [0, 600], d: [2300, 2300] },
    { v: 82.5, km: [0, 600], d: [4500, 4500] }
  ],
  contours: [], labels: deepLabels,
  floorKm: floorKm, floorDepth: floorDepth, dots: stationDots()
});

// colour bars
colorBar({ left: 1504, width: 43, top: 112, bottom: 596, range: [2.5, 30], tipLow: 2.08, tipHigh: 30.35, ticks: tempBarTicks });
colorBar({ left: 1505, width: 41, top: 663, bottom: 1147, range: [31, 35.52], tipLow: 30.95, tipHigh: 35.57, ticks: salBarTicks });
colorBar({ left: 1494, width: 42, top: 1219, bottom: 1700, range: [0, 226], tipLow: -2.4, tipHigh: 229, ticks: o2BarTicks });
colorBar({ left: 1503, width: 43, top: 1783, bottom: 2268, range: [0, 226], tipLow: -3.4, tipHigh: 229.4, ticks: o2BarTicks });

// titles and panel names
addText('Stations', 851, 33, 62);
addText('1000', 309, 88, 48);
addText('1014', 1448, 88, 48);
addText('Depth (m)', 33, 911, 62, { rot: -90 });
addText('Section Distance [km]', 917, 2367, 62.5);
addText('Temperature (<sup>o</sup>C)', 1193, 527, 62);
addText('Salinity', 1319, 1078, 61);
addText('O<sub>2</sub> (µM)', 1325, 1640, 62);
addText('O<sub>2</sub> (µM)', 1330, 2172, 62);
const odvStyle = { rot: -90, css: 'font-style:italic;font-weight:bold;' };
addText('Ocean Data Vie', 1490, 516, 20, odvStyle);
addText('Ocean Data Vie', 1490, 1068, 20, odvStyle);
addText('Ocean Data View', 1478, 1612, 20, odvStyle);
addText('Ocean Data Vie', 1483, 2183, 20, odvStyle);
</script>
</body>
</html>
